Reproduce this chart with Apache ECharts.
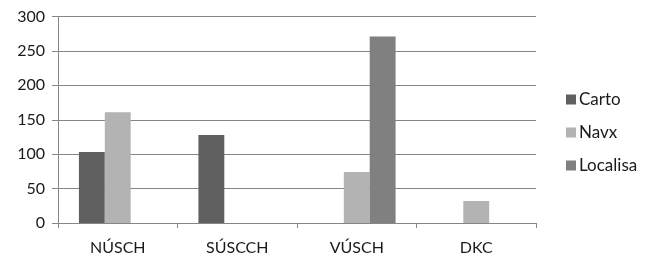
<!DOCTYPE html>
<html>
<head>
<meta charset="utf-8">
<script src="https://cdn.jsdelivr.net/npm/echarts@6/dist/echarts.min.js"></script>
<style>
  html, body { margin: 0; padding: 0; background: #fff; }
  #chart { width: 654px; height: 257px; }
</style>
</head>
<body>
<div id="chart"></div>
<script>
var categories = ['NÚSCH', 'SÚSCCH', 'VÚSCH', 'DKC'];
var cartoData = [103, 128, 0, 0];
var navxData = [161, 0, 74, 32];
var localisaData = [0, 0, 271, 0];
var yTicks = [0, 50, 100, 150, 200, 250, 300];

var chartDom = document.getElementById('chart');
var myChart = echarts.init(chartDom);
var option;

var fontFam = 'Lato, "Open Sans", sans-serif';

option = {
  animation: false,
  textStyle: { fontFamily: fontFam },
  grid: {
    left: 58,
    right: 118,
    top: 16.5,
    bottom: 34
  },
  legend: {
    orient: 'vertical',
    left: 566,
    top: 91,
    padding: 0,
    itemWidth: 10,
    itemHeight: 10,
    itemGap: 16,
    icon: 'rect',
    textStyle: { fontSize: 17, color: '#1a1a1a', fontFamily: fontFam, padding: [0, 0, 0, -2] },
    data: ['Carto', 'Navx', 'Localisa']
  },
  xAxis: {
    type: 'category',
    data: categories,
    axisLine: { lineStyle: { color: '#868686', width: 1 } },
    axisTick: { show: true, length: 5, lineStyle: { color: '#868686' } },
    axisLabel: { color: '#1a1a1a', fontSize: 16, margin: 17, fontFamily: fontFam }
  },
  yAxis: {
    type: 'value',
    min: yTicks[0],
    max: yTicks[yTicks.length - 1],
    interval: 50,
    axisLine: { show: true, lineStyle: { color: '#868686', width: 1 } },
    axisTick: { show: true, length: 6, lineStyle: { color: '#868686' } },
    axisLabel: { color: '#1a1a1a', fontSize: 16, margin: 13, fontFamily: fontFam },
    splitLine: { lineStyle: { color: '#868686', width: 1 } }
  },
  series: [
    {
      name: 'Carto',
      type: 'bar',
      data: cartoData,
      barGap: '0%',
      barCategoryGap: '35%',
      itemStyle: { color: '#606060' }
    },
    {
      name: 'Navx',
      type: 'bar',
      data: navxData,
      barGap: '0%',
      barCategoryGap: '35%',
      itemStyle: { color: '#b3b3b3' }
    },
    {
      name: 'Localisa',
      type: 'bar',
      data: localisaData,
      barGap: '0%',
      barCategoryGap: '35%',
      itemStyle: { color: '#808080' }
    }
  ]
};
option && myChart.setOption(option);
</script>
</body>
</html>
